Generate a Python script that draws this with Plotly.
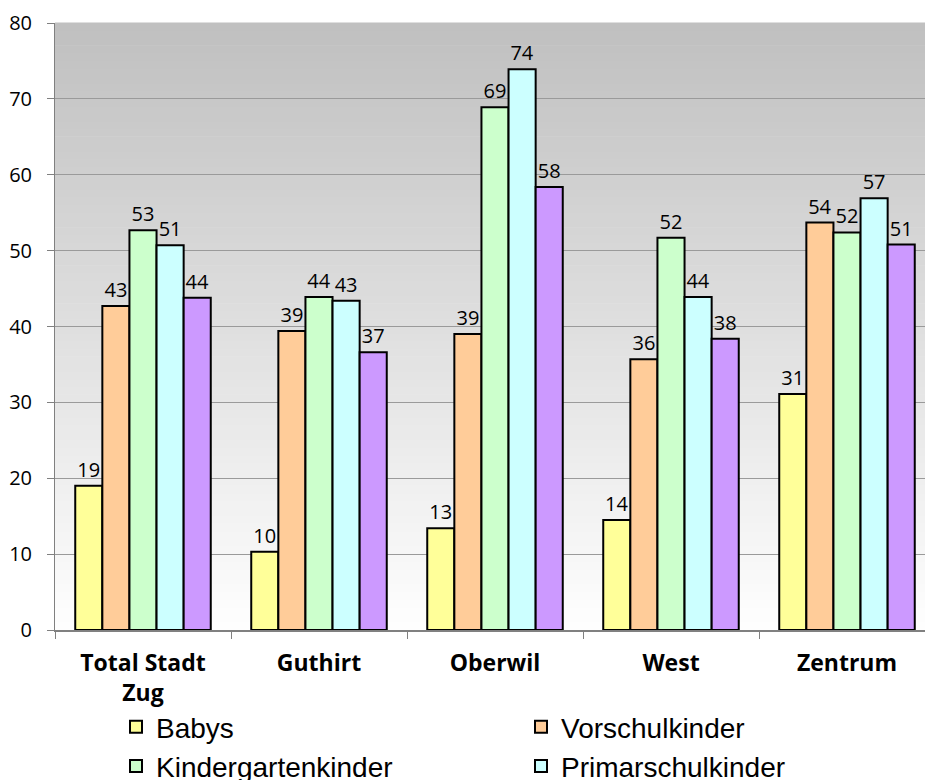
import plotly.graph_objects as go

categories = ["Total Stadt<br>Zug", "Guthirt", "Oberwil", "West", "Zentrum"]
babys = [19.0, 10.3, 13.4, 14.5, 31.1]
vorschul = [42.7, 39.4, 39.0, 35.7, 53.7]
kindergarten = [52.7, 43.9, 68.9, 51.7, 52.4]
primar = [50.7, 43.4, 73.9, 43.9, 56.9]
lila = [43.8, 36.6, 58.4, 38.4, 50.8]

series = [
    ("Babys", babys, "#FFFF99"),
    ("Vorschulkinder", vorschul, "#FFCC99"),
    ("Kindergartenkinder", kindergarten, "#CCFFCC"),
    ("Primarschulkinder", primar, "#CCFFFF"),
    ("Oberstufe", lila, "#CC99FF"),
]
y_ticks = [0, 10, 20, 30, 40, 50, 60, 70, 80]

fig = go.Figure()
for name, vals, col in series:
    fig.add_trace(go.Bar(
        x=categories, y=vals, name=name,
        marker=dict(color=col, line=dict(color="black", width=2)),
        text=[f"{round(v)}" for v in vals], textposition="outside",
        constraintext="none",
        textfont=dict(family="Open Sans", size=20, color="black"),
        cliponaxis=False,
    ))

# background vertical gradient (gray top -> white bottom)
shapes = []
n = 80
for i in range(n):
    f = i / n
    c = int(192 + (255 - 192) * (1 - (i + 0.5) / n))
    shapes.append(dict(type="rect", xref="paper", yref="paper",
                       x0=0, x1=1, y0=f, y1=(i + 1) / n + 0.001,
                       fillcolor=f"rgb({c},{c},{c})", line=dict(width=0),
                       layer="below"))

W, H = 925, 780
L, R, T, B = 55, 0, 23, 150
cat_w = 176
x_span = (W - L - R) / cat_w

fig.update_layout(
    width=W, height=H,
    margin=dict(l=L, r=R, t=T, b=B, pad=0, autoexpand=False),
    paper_bgcolor="white", plot_bgcolor="rgba(0,0,0,0)",
    shapes=shapes,
    barmode="group", bargap=0.23, bargroupgap=0,
    showlegend=True,
    legend=dict(orientation="h", xref="container", yref="container",
                x=116 / W, y=1 - 702 / H, xanchor="left", yanchor="top",
                bgcolor="rgba(0,0,0,0)",
                entrywidth=360, entrywidthmode="pixels",
                font=dict(family="Liberation Sans, Arial", size=28, color="black"),
                itemwidth=30, tracegroupgap=0, traceorder="normal"),
    xaxis=dict(range=[-0.5, -0.5 + x_span], tickson="boundaries",
               ticks="outside", ticklen=7, tickcolor="#808080",
               showline=True, linecolor="#808080", linewidth=2,
               tickfont=dict(family="Open Sans", size=23, color="black", weight="bold"),
               ticklabelstandoff=11, showgrid=False, automargin=False),
    yaxis=dict(range=[0, 80], tickvals=y_ticks, ticks="outside", ticklen=7,
               tickcolor="#808080", showline=True, linecolor="#808080", linewidth=1,
               showgrid=True, gridcolor="#9a9a9a", gridwidth=1,
               zeroline=False, automargin=False,
               tickfont=dict(family="Open Sans", size=20, color="black"),
               ticklabelstandoff=11),
)

fig.write_html("out.html")
